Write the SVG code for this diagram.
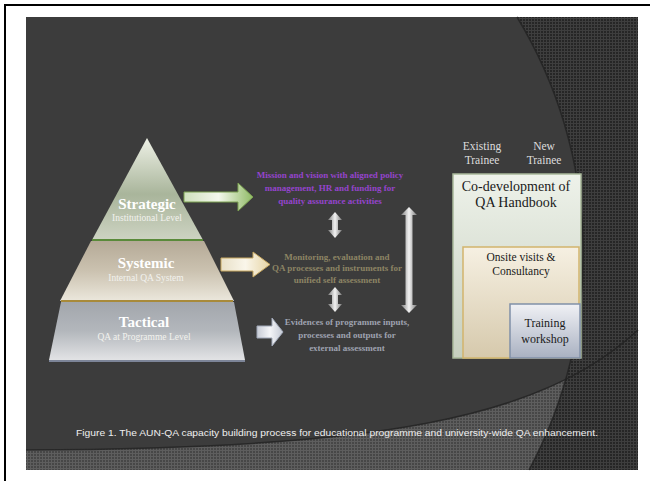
<svg xmlns="http://www.w3.org/2000/svg" width="650" height="481" viewBox="0 0 650 481">
<defs>
<pattern id="gridDark" width="3" height="3" patternUnits="userSpaceOnUse"><rect width="3" height="3" fill="#262626"/><path d="M0,0.5H3M0.5,0V3" stroke="#3e3e3e" stroke-width="1"/></pattern>
<pattern id="gridLight" width="3" height="3" patternUnits="userSpaceOnUse"><rect width="3" height="3" fill="#474747"/><path d="M0,0.5H3M0.5,0V3" stroke="#5e5e5e" stroke-width="1"/></pattern>
<linearGradient id="gStrat" x1="0" y1="0" x2="0" y2="1"><stop offset="0" stop-color="#eef1e6"/><stop offset="0.55" stop-color="#a9b59b"/><stop offset="1" stop-color="#cdd3c2"/></linearGradient>
<linearGradient id="gSys" x1="0" y1="0" x2="0" y2="1"><stop offset="0" stop-color="#b5aa97"/><stop offset="0.5" stop-color="#cbc2b0"/><stop offset="1" stop-color="#ebe7dc"/></linearGradient>
<linearGradient id="gTac" x1="0" y1="0" x2="0" y2="1"><stop offset="0" stop-color="#a2a6ac"/><stop offset="0.5" stop-color="#b3b7bc"/><stop offset="1" stop-color="#e2e3e5"/></linearGradient>
<linearGradient id="gArrG" x1="0" y1="0" x2="1" y2="0"><stop offset="0" stop-color="#cfe0bd"/><stop offset="0.5" stop-color="#f3f7ec"/><stop offset="1" stop-color="#90bb66"/></linearGradient>
<linearGradient id="gArrC" x1="0" y1="0" x2="1" y2="0"><stop offset="0" stop-color="#e8e0c8"/><stop offset="0.5" stop-color="#faf6ea"/><stop offset="1" stop-color="#e6d4a4"/></linearGradient>
<linearGradient id="gArrW" x1="0" y1="0" x2="1" y2="0"><stop offset="0" stop-color="#c8ccd6"/><stop offset="0.5" stop-color="#f4f5f8"/><stop offset="1" stop-color="#c4c9d4"/></linearGradient>
<linearGradient id="gSilver" x1="0" y1="0" x2="1" y2="0"><stop offset="0" stop-color="#7a7a7a"/><stop offset="0.5" stop-color="#f2f2f2"/><stop offset="1" stop-color="#7a7a7a"/></linearGradient>
<linearGradient id="gBox1" x1="0" y1="0" x2="0" y2="1"><stop offset="0" stop-color="#eef2ea"/><stop offset="1" stop-color="#c6cfbf"/></linearGradient>
<linearGradient id="gBox2" x1="0" y1="0" x2="0" y2="1"><stop offset="0" stop-color="#f6f0e2"/><stop offset="1" stop-color="#d6c9ac"/></linearGradient>
<linearGradient id="gBox3" x1="0" y1="0" x2="0" y2="1"><stop offset="0" stop-color="#f0f1f5"/><stop offset="1" stop-color="#a9b1c1"/></linearGradient>
<style>
.lvl{font-family:"Liberation Serif",serif;font-weight:bold;font-size:15px;fill:#ffffff;text-anchor:middle}
.sub{font-family:"Liberation Serif",serif;font-size:9.5px;fill:#f2f2ee;text-anchor:middle}
.desc{font-family:"Liberation Serif",serif;font-weight:bold;font-size:9px;text-anchor:middle}
.box{font-family:"Liberation Serif",serif;fill:#1a1a1a;text-anchor:middle}
.hdr{font-family:"Liberation Serif",serif;font-size:11.5px;fill:#dcdcdc;text-anchor:middle}
.cap{font-family:"Liberation Sans",Arial,sans-serif;font-size:9.6px;fill:#eeeeee}
</style>
</defs>
<rect x="0" y="0" width="650" height="481" fill="#ffffff"/>
<rect x="5" y="5" width="680" height="500" fill="none" stroke="#000" stroke-width="2"/>
<g id="background">
<rect x="26" y="17" width="612" height="453" fill="#3c3c3c"/>
<path d="M26,450 C380,448 540,420 638,330 L638,470 L26,470 Z" fill="url(#gridLight)"/>
<path d="M517,17 A457,457 0 0 1 529,470 L638,470 L638,17 Z" fill="url(#gridDark)"/>
<path d="M26,450 C380,448 540,420 638,330" fill="none" stroke="#222" stroke-width="1.5" opacity="0.8"/>
<path d="M517,17 A457,457 0 0 1 529,470" fill="none" stroke="#222" stroke-width="1.5" opacity="0.8"/>
</g>
<g id="strategic">
<polygon points="147,138 92,240 203,240" fill="url(#gStrat)"/>
<line x1="92" y1="240" x2="203" y2="240" stroke="#5a8a3a" stroke-width="2"/>
<text class="lvl" x="147" y="209">Strategic</text>
<text class="sub" x="147" y="221">Institutional Level</text>
</g>
<g id="systemic">
<polygon points="91,241 204,241 234,301 60,301" fill="url(#gSys)"/>
<line x1="61" y1="301" x2="233" y2="301" stroke="#a88a3a" stroke-width="2"/>
<text class="lvl" x="146" y="268">Systemic</text>
<text class="sub" x="146" y="281">Internal QA System</text>
</g>
<g id="tactical">
<polygon points="61,302 234,302 245,360 49,360" fill="url(#gTac)"/>
<line x1="49" y1="361" x2="245" y2="361" stroke="#7d8598" stroke-width="2"/>
<text class="lvl" x="144" y="327">Tactical</text>
<text class="sub" x="144" y="340">QA at Programme Level</text>
</g>
<g id="desc-strategic">
<text class="desc" fill="#9544cc" x="330" y="178">Mission and vision with aligned policy</text>
<text class="desc" fill="#9544cc" x="330" y="191">management, HR and funding for</text>
<text class="desc" fill="#9544cc" x="330" y="204">quality assurance activities</text>
</g>
<g id="desc-systemic">
<text class="desc" fill="#8c8464" x="337" y="260">Monitoring, evaluation and</text>
<text class="desc" fill="#8c8464" x="337" y="271">QA processes and instruments for</text>
<text class="desc" fill="#8c8464" x="337" y="283">unified self assessment</text>
</g>
<g id="desc-tactical">
<text class="desc" fill="#9ea2b0" x="347" y="325">Evidences of programme inputs,</text>
<text class="desc" fill="#9ea2b0" x="347" y="338">processes and outputs for</text>
<text class="desc" fill="#9ea2b0" x="347" y="351">external assessment</text>
</g>
<g id="connectors">
<path d="M184,192 L238,192 L238,183 L253,197 L238,211 L238,202 L184,202 Z" fill="url(#gArrG)" stroke="#7aa050" stroke-width="1"/>
<path d="M221,258 L253,258 L253,252 L270,264.5 L253,277 L253,271 L221,271 Z" fill="url(#gArrC)" stroke="#c8a860" stroke-width="1"/>
<path d="M257,326 L272,326 L272,318 L283,332 L272,346 L272,338 L257,338 Z" fill="url(#gArrW)" stroke="#a0a8b8" stroke-width="1"/>
<path d="M335,212 L342,220 L338,220 L338,230 L342,230 L335,238 L328,230 L332,230 L332,220 L328,220 Z" fill="url(#gSilver)"/>
<path d="M335,287 L342,295 L338,295 L338,304 L342,304 L335,312 L328,304 L332,304 L332,295 L328,295 Z" fill="url(#gSilver)"/>
<path d="M409,207 L417,215 L412.5,215 L412.5,305 L417,305 L409,313 L401,305 L405.5,305 L405.5,215 L401,215 Z" fill="url(#gSilver)"/>
</g>
<g id="trainee-labels">
<text class="hdr" x="482" y="150">Existing</text>
<text class="hdr" x="482" y="164">Trainee</text>
<text class="hdr" x="544" y="150">New</text>
<text class="hdr" x="544" y="164">Trainee</text>
</g>
<g id="handbook">
<rect x="453" y="174" width="128" height="184" fill="url(#gBox1)" stroke="#a9b99a" stroke-width="1.5"/>
<text class="box" font-size="14" x="516" y="191">Co-development of</text>
<text class="box" font-size="14" x="516" y="207">QA Handbook</text>
</g>
<g id="onsite">
<rect x="463" y="247" width="116" height="111" fill="url(#gBox2)" stroke="#d2b46c" stroke-width="1.5"/>
<text class="box" font-size="11.5" x="521" y="261">Onsite visits &amp;</text>
<text class="box" font-size="11.5" x="521" y="275">Consultancy</text>
</g>
<g id="training">
<rect x="510" y="304" width="70" height="54" fill="url(#gBox3)" stroke="#8090a8" stroke-width="1.5"/>
<text class="box" font-size="12" x="545" y="327">Training</text>
<text class="box" font-size="12" x="545" y="343">workshop</text>
</g>
<text class="cap" x="76" y="436" textLength="522" lengthAdjust="spacingAndGlyphs">Figure 1.  The AUN-QA capacity building process for educational programme and university-wide QA enhancement.</text>
</svg>
